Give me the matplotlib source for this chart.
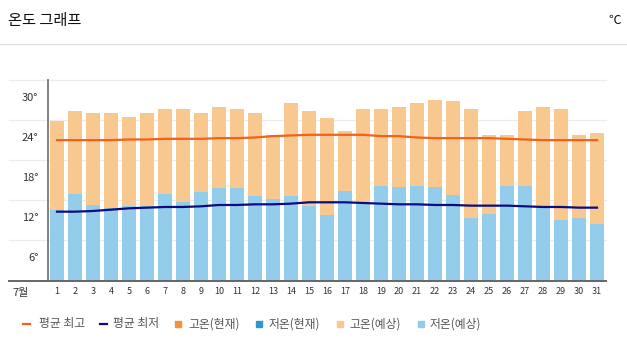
import numpy as np
import matplotlib
matplotlib.use('Agg')
import matplotlib.pyplot as plt
from matplotlib.lines import Line2D
from matplotlib.patches import Rectangle

plt.rcParams['font.family'] = ['Noto Sans CJK KR', 'DejaVu Sans']

days = list(range(1, 32))
high = [26.3, 27.8, 27.6, 27.5, 26.9, 27.6, 28.1, 28.1, 27.5, 28.5, 28.1, 27.5, 24.2, 29.1, 27.8, 26.8,
        24.8, 28.1, 28.1, 28.4, 29.1, 29.5, 29.4, 28.2, 24.3, 24.3, 27.9, 28.4, 28.2, 24.2, 24.5]
low = [13.1, 15.5, 13.8, 13.3, 13.6, 13.6, 15.4, 14.3, 15.7, 16.4, 16.4, 15.2, 14.7, 15.2, 13.6, 12.3,
       15.9, 14.2, 16.7, 16.5, 16.7, 16.5, 15.3, 11.8, 12.4, 16.6, 16.7, 13.6, 11.6, 11.9, 11.0]
avg_high = [23.5, 23.5, 23.5, 23.5, 23.6, 23.6, 23.7, 23.7, 23.7, 23.8, 23.8, 23.9, 24.1, 24.2, 24.3, 24.3,
            24.3, 24.3, 24.1, 24.1, 23.9, 23.8, 23.8, 23.8, 23.8, 23.7, 23.6, 23.5, 23.5, 23.5, 23.5]
avg_low = [12.8, 12.8, 12.9, 13.1, 13.3, 13.4, 13.5, 13.5, 13.6, 13.8, 13.8, 13.9, 13.9, 14.0, 14.2, 14.2,
           14.2, 14.1, 14.0, 13.9, 13.9, 13.8, 13.8, 13.7, 13.7, 13.7, 13.6, 13.5, 13.5, 13.4, 13.4]
yticks = [6, 12, 18, 24, 30]
grid_vals = [8.5, 14.5, 20.5, 26.5, 32.5]

legend_labels = ['평균 최고', '평균 최저', '고온(현재)', '저온(현재)', '고온(예상)', '저온(예상)']
legend_colors = ['#f0621e', '#0c0c80', '#f39137', '#2e96d4', '#f9c88e', '#93cdeb']

W, H = 627, 351
fig = plt.figure(figsize=(W / 100, H / 100), dpi=100)
ax = fig.add_axes([48 / W, 1 - 280.5 / H, 558 / W, 200.5 / H])

# gridlines (extend left under the tick labels)
for g in grid_vals:
    ax.axhline(g, xmin=-39 / 558, xmax=1, color='#ececec', lw=0.9, clip_on=False, zorder=0)

ax.bar(days, high, width=0.75, color='#f9c88e', zorder=2)
ax.bar(days, low, width=0.75, color='#93cdeb', zorder=3)
ax.plot(days, avg_high, color='#f0621e', lw=1.6, zorder=4)
ax.plot(days, avg_low, color='#0c0c80', lw=1.6, zorder=4)

ax.set_xlim(0.5, 31.5)
ax.set_ylim(2.5, 32.5)
for s in ['top', 'right', 'bottom']:
    ax.spines[s].set_visible(False)
ax.spines['left'].set_color('#777777')
ax.spines['left'].set_linewidth(1.3)
ax.axhline(2.5, xmin=-39 / 558, xmax=1, color='#666666', lw=1.4, clip_on=False, zorder=5)

ax.set_xticks(days)
ax.set_xticklabels([str(d) for d in days], fontsize=6.5, color='#333333')
ax.set_yticks(yticks)
ax.set_yticklabels([str(v) + '°' for v in yticks], fontsize=8, color='#333333')
ax.tick_params(axis='both', length=0)
ax.tick_params(axis='x', pad=5)
ax.tick_params(axis='y', pad=7)

fig.text(12 / W, 1 - 293 / H, '7월', fontsize=8, color='#333333', va='center')

# header
fig.text(8 / W, 1 - 21 / H, '온도 그래프', fontsize=11, color='#111111', va='center')
fig.text(608 / W, 1 - 20 / H, '℃', fontsize=9, color='#111111', va='center')
fig.add_artist(Line2D([0, 1], [1 - 44 / H, 1 - 44 / H], color='#dddddd', lw=1))

# legend
ly = 1 - 324 / H
marker_x = [23, 100, 175, 256, 337, 418]
text_x = [39, 113, 188, 269, 349, 430]
for i, lab in enumerate(legend_labels):
    if i < 2:
        fig.add_artist(Line2D([marker_x[i] / W, (marker_x[i] + 7) / W], [ly, ly],
                              color=legend_colors[i], lw=1.6))
    else:
        fig.add_artist(Rectangle((marker_x[i] / W, ly - 3 / H), 6 / W, 6 / H,
                                 color=legend_colors[i], transform=fig.transFigure))
    fig.text(text_x[i] / W, ly, lab, fontsize=8.5, color='#555555', va='center')

fig.savefig('out.png', dpi=100)
